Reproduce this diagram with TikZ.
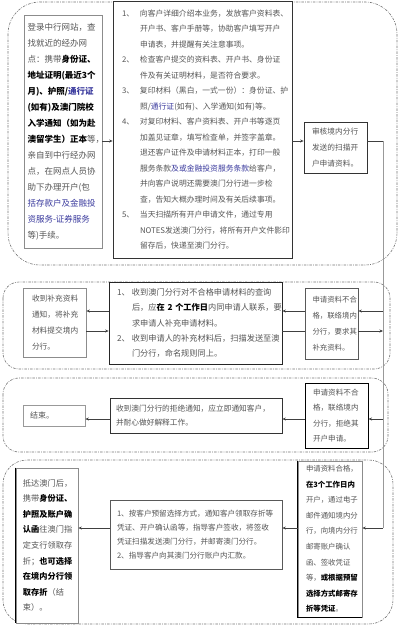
\documentclass[tikz,border=0pt]{standalone}
\usepackage{fontspec}
\usetikzlibrary{arrows.meta}
\newfontfamily\cjk{Noto Sans CJK SC}
\definecolor{txt}{HTML}{555555}
\definecolor{bl}{HTML}{3B3B9E}
\newcommand\kb[1]{{\bfseries\color{black}#1}}
\newcommand\kbl[1]{{\color{bl}#1}}
\newcommand\kbbl[1]{{\bfseries\color{bl}#1}}
\newcommand\knum[2]{\makebox[#1][l]{#2}}
\newcommand\kcont[1]{\hspace*{#1}}
\tikzset{
  box/.style={draw=#1, fill=white, line width=0.7pt, inner ysep=0pt, align=left, text=txt},
  box/.default=black!80,
  frame/.style={draw=black!55, line width=0.6pt, dash pattern=on 2.5pt off 1.2pt on 0.8pt off 1.2pt},
  arr/.style={draw=black!75, line width=0.8pt, -{Stealth[length=3.5pt,width=3pt]}},
  dk/.style={draw=black!75, line width=0.8pt},
  vl/.style={draw=black!40, line width=0.7pt}
}
\begin{document}
\begin{tikzpicture}[x=1pt,y=-1pt]
\useasboundingbox (0,0) rectangle (400,626);
% section frames
\draw[frame, rounded corners=32pt] (8,2) rectangle (397,265);
\draw[frame, rounded corners=16pt] (3,282) rectangle (390,369);
\draw[frame, rounded corners=16pt] (3,378) rectangle (388,452);
\draw[frame, rounded corners=24pt] (3,460) rectangle (393,624);

% section 1
\node[box=black!45, minimum width=78pt, minimum height=233pt, text width=71pt, inner xsep=3.5pt,
  font=\cjk\fontsize{8.5}{16}\selectfont] (A) at (63,131.5) {%
登录中行网站，查\\
找就近的经办网\\
点：携带\kb{身份证、}\\
\kb{地址证明(最近3个}\\
\kb{月)、护照/}\kbbl{通行证}\\
\kb{(如有)及澳门院校}\\
\kb{入学通知（如为赴}\\
\kb{澳留学生）正本}等，\\
亲自到中行经办网\\
点，在网点人员协\\
助下办理开户(包\\
\kbl{括存款户及金融投}\\
\kbl{资服务-证券服务}\\
等)手续。};

\node[box=black!80, minimum width=179pt, minimum height=257pt, text width=161pt, inner xsep=9pt,
  font=\cjk\fontsize{7.8}{15.5}\selectfont] (B) at (202.5,129.5) {%
\knum{18pt}{1、}向客户详细介绍本业务，发放客户资料表、\\
\kcont{18pt}开户书、客户手册等，协助客户填写开户\\
\kcont{18pt}申请表，并提醒有关注意事项。\\
\knum{18pt}{2、}检查客户提交的资料表、开户书、身份证\\
\kcont{18pt}件及有关证明材料，是否符合要求。\\
\knum{18pt}{3、}复印材料（黑白，一式一份）：身份证、护\\
\kcont{18pt}照/\kbl{通行证}(如有)、入学通知(如有)等。\\
\knum{18pt}{4、}对复印材料、客户资料表、开户书等逐页\\
\kcont{18pt}加盖见证章，填写检查单，并签字盖章。\\
\kcont{18pt}退还客户证件及申请材料正本，打印一般\\
\kcont{18pt}服务条款\kbl{及或金融投资服务条款}给客户，\\
\kcont{18pt}并向客户说明还需要澳门分行进一步检\\
\kcont{18pt}查，告知大概办理时间及有关后续事项。\\
\knum{18pt}{5、}当天扫描所有开户申请文件，通过专用\\
\kcont{18pt}NOTES发送澳门分行，将所有开户文件影印\\
\kcont{18pt}留存后，快递至澳门分行。};

\node[box=black!80, minimum width=63pt, minimum height=51pt, text width=47pt, inner xsep=8pt,
  font=\cjk\fontsize{7.7}{16}\selectfont] (C) at (335.5,147.5) {%
审核境内分行\\
发送的扫描开\\
户申请资料。};

% section 2
\node[box=black!45, minimum width=63pt, minimum height=69pt, text width=45pt, inner xsep=9pt,
  font=\cjk\fontsize{7.7}{16}\selectfont] (D) at (54.5,322.5) {%
收到补充资料\\
通知，将补充\\
材料提交境内\\
分行。};

\node[box=black!85, minimum width=173pt, minimum height=82pt, text width=157pt, inner xsep=8pt,
  font=\cjk\fontsize{8.2}{15.3}\selectfont] (E) at (195.5,323) {%
\knum{15pt}{1、}收到澳门分行对不合格申请材料的查询\\
\kcont{15pt}后，应\kb{在~2~个工作日}内同申请人联系，要\\
\kcont{15pt}求申请人补充申请材料。\\
\knum{15pt}{2、}收到申请人的补充材料后，扫描发送至澳\\
\kcont{15pt}门分行，命名规则同上。};

\node[box=black!65, minimum width=53pt, minimum height=71pt, text width=38pt, inner xsep=7.5pt,
  font=\cjk\fontsize{7.4}{16}\selectfont] (F) at (331.5,323.5) {%
申请资料不合\\
格，联络境内\\
分行，要求其\\
补充资料。};

% section 3
\node[box=black!40, minimum width=62pt, minimum height=21pt, text width=48pt, inner xsep=7pt,
  font=\cjk\fontsize{8}{14}\selectfont] (G) at (54,415.5) {结束。};

\node[box=black!80, minimum width=172pt, minimum height=35pt, text width=160pt, inner xsep=6pt,
  font=\cjk\fontsize{7.7}{14.5}\selectfont] (H) at (196,415.5) {%
收到澳门分行的拒绝通知，应立即通知客户，\\
并耐心做好解释工作。};

\node[box=black, line width=1pt, minimum width=63pt, minimum height=65pt, text width=47pt, inner xsep=8pt,
  font=\cjk\fontsize{7.6}{15.5}\selectfont] (I) at (336.5,415.5) {%
申请资料不合\\
格，联络境内\\
分行，拒绝其\\
开户申请。};

% section 4
\node[box=black!45, minimum width=62pt, minimum height=155pt, text width=48pt, inner xsep=7pt,
  font=\cjk\fontsize{8.2}{15.6}\selectfont] (J) at (47,545.5) {%
抵达澳门后，\\
携带\kb{身份证、}\\
\kb{护照及账户确}\\
\kb{认函}往澳门指\\
定支行领取存\\
折；\kb{也可选择}\\
\kb{在境内分行领}\\
\kb{取存折}（结\\
束）。};
\draw[line width=1.6pt] (J.north west) -- (J.south west);

\node[box=black!65, minimum width=172pt, minimum height=69pt, text width=158pt, inner xsep=7pt,
  font=\cjk\fontsize{7.6}{14}\selectfont] (K) at (196,534.5) {%
1、按客户预留选择方式，通知客户领取存折等\\
凭证、开户确认函等，指导客户签收，将签收\\
凭证扫描发送澳门分行，并邮寄澳门分行。\\
2、指导客户向其澳门分行账户内汇款。};

\node[box=black!45, minimum width=64pt, minimum height=156pt, text width=48pt, inner xsep=8pt,
  font=\cjk\fontsize{7.4}{15.6}\selectfont] (L) at (330,539) {%
申请资料合格，\\
\kb{在3个工作日内}\\
开户，通过电子\\
邮件通知境内分\\
行，向境内分行\\
邮寄账户确认\\
函、签收凭证\\
等，\kb{或根据预留}\\
\kb{选择方式邮寄存}\\
\kb{折等凭证}。};
\draw[line width=1.4pt] (L.north west) -- (L.south west) -- (L.south east);

% levels
\coordinate (ya) at (0,141);
\coordinate (yb) at (0,311);
\coordinate (yc) at (0,331);
\coordinate (yd) at (0,419);
\coordinate (vt) at (383,141);
\coordinate (vb) at (383,528);

% connectors
\draw[arr] (A.east |- ya) -- (B.west |- ya);
\draw[arr] (B.east |- ya) -- (C.west |- ya);
\draw[dk] (C.east |- ya) -- (vt);
\draw[vl] (vt) -- (vb);
\draw[arr] (vt |- yb) -- (F.east |- yb);
\draw[arr] (F.east |- yc) -- (vt |- yc);
\draw[arr] (F.west |- yb) -- (E.east |- yb);
\draw[dk] (E.east |- yc) -- (F.west |- yc);
\draw[arr] (E.west |- yb) -- (D.east |- yb);
\draw[arr] (D.east |- yc) -- (E.west |- yc);
\draw[arr] (vt |- yd) -- (I.east |- yd);
\draw[arr] (I.west |- yd) -- (H.east |- yd);
\draw[arr] (H.west |- yd) -- (G.east |- yd);
\draw[arr] (vb) -- (L.east |- vb);
\draw[arr] (L.west |- vb) -- (K.east |- vb);
\draw[arr] (K.west |- vb) -- (J.east |- vb);
\end{tikzpicture}
\end{document}
